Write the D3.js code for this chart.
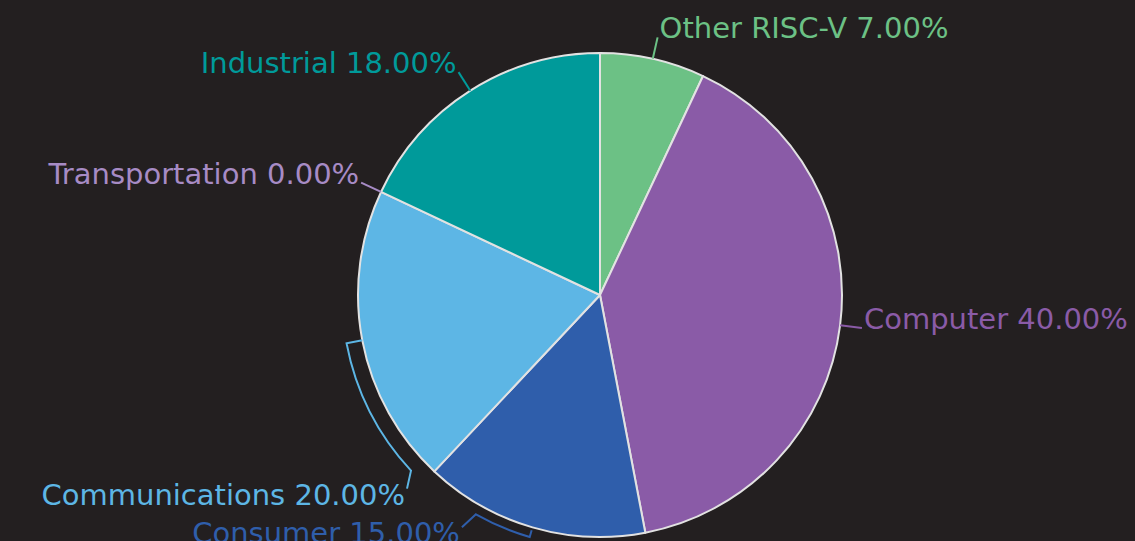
<!DOCTYPE html>
<html>
<head>
<meta charset="utf-8">
<script src="https://cdn.jsdelivr.net/npm/d3@7"></script>
<style>
html,body{margin:0;padding:0;background:#231f20;}
svg{display:block;}
text{font-family:"DejaVu Sans",sans-serif;}
</style>
</head>
<body>
<svg id="chart" width="1135" height="541"></svg>
<script>
const categories = ["Other RISC-V", "Computer", "Consumer", "Communications", "Transportation", "Industrial"];
const shares = [7, 40, 15, 20, 0, 18];
const colors = ["#6cc185", "#8a5ba7", "#2f5eab", "#5db6e5", "#a78bc5", "#009a9a"];

const W = 1135, H = 541;
const cx = 600, cy = 295, R = 242;
const svg = d3.select("#chart");
svg.append("rect").attr("width", W).attr("height", H).attr("fill", "#231f20");

const data = categories.map((c, i) => ({name: c, value: shares[i], color: colors[i]}));
const pie = d3.pie().value(d => d.value).sort(null).startAngle(0).endAngle(2 * Math.PI);
const arcs = pie(data);
const arc = d3.arc().innerRadius(0).outerRadius(R);

const g = svg.append("g").attr("transform", `translate(${cx},${cy})`);
g.selectAll("path.slice").data(arcs.filter(d => d.value > 0)).join("path")
  .attr("class", "slice")
  .attr("d", arc)
  .attr("fill", d => d.data.color)
  .attr("stroke", "#e2e2e2")
  .attr("stroke-width", 2)
  .attr("stroke-linejoin", "round");

const pt = (a, r) => [r * Math.sin(a), -r * Math.cos(a)];
const deg = Math.PI / 180;
const fmt = v => v.toFixed(2) + "%";
const fontSize = 29;

// layout: default radial label, or bracket label for crowded bottom slices
const bracket = {
  "Communications": {r0: R, r1: R + 16, endOffset: d => d.startAngle + 3.9 * deg, dx: -4, dy: 18},
  "Consumer": {r0: R + 3, r1: R + 10, endOffset: d => d.endAngle - 13.7 * deg, dx: -14, dy: 13}
};

arcs.forEach(d => {
  const mid = (d.startAngle + d.endAngle) / 2;
  const col = d.data.color;
  const label = d.data.name + " " + fmt(d.data.value);
  let tx, ty, anchor;
  if (bracket[d.data.name]) {
    const b = bracket[d.data.name];
    const aEnd = b.endOffset(d);
    const p0 = pt(mid, b.r0), p1 = pt(mid, b.r1), p2 = pt(aEnd, b.r1);
    const p3 = [p2[0] + b.dx, p2[1] + b.dy];
    const path = d3.path();
    path.moveTo(p0[0], p0[1]);
    path.lineTo(p1[0], p1[1]);
    path.arc(0, 0, b.r1, mid - Math.PI / 2, aEnd - Math.PI / 2, aEnd < mid);
    path.lineTo(p3[0], p3[1]);
    g.append("path").attr("d", path.toString()).attr("fill", "none")
      .attr("stroke", col).attr("stroke-width", 2);
    tx = p3[0] - 2; ty = p3[1] + 16; anchor = "end";
  } else {
    const p0 = pt(mid, R), p1 = pt(mid, R + 22);
    g.append("line").attr("x1", p0[0]).attr("y1", p0[1]).attr("x2", p1[0]).attr("y2", p1[1])
      .attr("stroke", col).attr("stroke-width", 2);
    const right = Math.sin(mid) >= 0;
    tx = p1[0] + (right ? 2 : -2); ty = p1[1] + 1; anchor = right ? "start" : "end";
  }
  g.append("text").attr("x", tx).attr("y", ty).attr("text-anchor", anchor)
    .attr("fill", col).attr("font-size", fontSize).text(label);
});
</script>
</body>
</html>
